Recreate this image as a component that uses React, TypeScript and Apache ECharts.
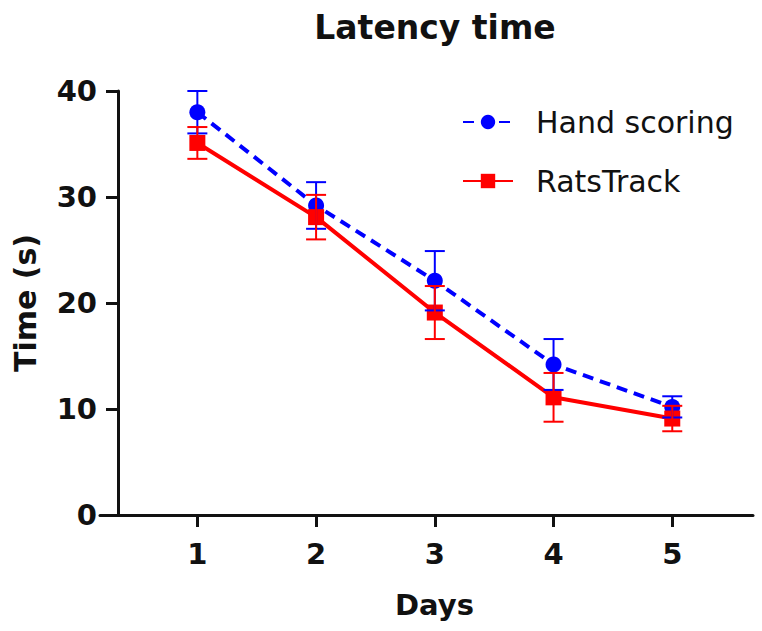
import React, { useEffect, useRef } from "react";
import * as echarts from "echarts";

const days = [1, 2, 3, 4, 5];
const handMean = [38.0, 29.2, 22.1, 14.2, 10.2];
const handErr = [2.0, 2.2, 2.8, 2.4, 1.0];
const ratsMean = [35.1, 28.1, 19.1, 11.1, 9.1];
const ratsErr = [1.5, 2.1, 2.5, 2.3, 1.2];
const yTicks = [0, 10, 20, 30, 40];
const seriesNames = ["Hand scoring", "RatsTrack"];
const titleText = "Latency time";

const BLUE = "#0000ff";
const RED = "#ff0000";
const INK = "#111111";

const makeErr = (color: string) => (params: any, api: any) => {
  const x = api.value(0);
  const lo = api.value(1);
  const hi = api.value(2);
  const pHi = api.coord([x, hi]);
  const pLo = api.coord([x, lo]);
  const w = 10;
  const style = { stroke: color, lineWidth: 2 };
  return {
    type: "group",
    children: [
      { type: "line", shape: { x1: pHi[0], y1: pHi[1], x2: pLo[0], y2: pLo[1] }, style },
      { type: "line", shape: { x1: pHi[0] - w, y1: pHi[1], x2: pHi[0] + w, y2: pHi[1] }, style },
      { type: "line", shape: { x1: pLo[0] - w, y1: pLo[1], x2: pLo[0] + w, y2: pLo[1] }, style },
    ],
  };
};

export default function App() {
  const ref = useRef<HTMLDivElement>(null);
  useEffect(() => {
    if (!ref.current) return;
    const chart = echarts.init(ref.current, undefined, { renderer: "svg" });
    const handLine = days.map((d, i) => [d, handMean[i]]);
    const ratsLine = days.map((d, i) => [d, ratsMean[i]]);
    const handBars = days.map((d, i) => [d, handMean[i] - handErr[i], handMean[i] + handErr[i]]);
    const ratsBars = days.map((d, i) => [d, ratsMean[i] - ratsErr[i], ratsMean[i] + ratsErr[i]]);
    chart.setOption({
      animation: false,
      backgroundColor: "#ffffff",
      graphic: [
        {
          type: "text",
          x: 435,
          y: 11,
          style: {
            text: titleText,
            fontFamily: "DejaVu Sans",
            fontWeight: "bold",
            fontSize: 33,
            fill: INK,
            textAlign: "center",
            textVerticalAlign: "top",
          },
        },
      ],
      grid: { left: 100, right: 9, top: 91, bottom: 116, containLabel: false },
      legend: {
        data: seriesNames,
        orient: "vertical",
        left: 457,
        top: 102,
        itemWidth: 50,
        itemHeight: 18,
        itemGap: 29,
        textStyle: {
          fontFamily: "DejaVu Sans",
          fontSize: 30,
          color: INK,
          padding: [0, 0, 0, 18],
        },
      },
      xAxis: {
        type: "value",
        min: 0.18,
        max: 5.68,
        name: "Days",
        nameLocation: "middle",
        nameGap: 75,
        nameTextStyle: {
          fontFamily: "DejaVu Sans",
          fontWeight: "bold",
          fontSize: 29,
          color: INK,
          padding: [0, 0, 0, 16],
        },
        axisLine: { onZero: false, lineStyle: { color: INK, width: 3 } },
        axisTick: { show: true, customValues: days, length: 12, lineStyle: { color: INK, width: 3 } },
        axisLabel: {
          customValues: days,
          margin: 24,
          fontFamily: "DejaVu Sans",
          fontWeight: "bold",
          fontSize: 29,
          color: INK,
        },
        splitLine: { show: false },
      },
      yAxis: {
        type: "value",
        min: 0,
        max: 40,
        interval: 10,
        offset: -18,
        name: "Time (s)",
        nameLocation: "middle",
        nameRotate: 90,
        nameGap: 78,
        nameTextStyle: {
          fontFamily: "DejaVu Sans",
          fontWeight: "bold",
          fontSize: 30,
          color: INK,
        },
        axisLine: { show: true, lineStyle: { color: INK, width: 3 } },
        axisTick: { show: true, length: 12, lineStyle: { color: INK, width: 3 } },
        axisLabel: {
          margin: 21,
          fontFamily: "DejaVu Sans",
          fontWeight: "bold",
          fontSize: 29,
          color: INK,
          customValues: yTicks,
        },
        splitLine: { show: false },
      },
      series: [
        {
          name: seriesNames[0],
          type: "line",
          data: handLine,
          symbol: "circle",
          symbolSize: 16,
          color: BLUE,
          itemStyle: { color: BLUE },
          lineStyle: { color: BLUE, width: 4, type: [11, 7] },
          z: 2,
        },
        {
          name: seriesNames[1],
          type: "line",
          data: ratsLine,
          symbol: "rect",
          symbolSize: 16,
          color: RED,
          itemStyle: { color: RED },
          lineStyle: { color: RED, width: 4, type: "solid" },
          z: 3,
        },
        {
          name: "hand-err",
          type: "custom",
          data: handBars,
          renderItem: makeErr(BLUE),
          encode: { x: 0, y: [1, 2] },
          z: 4,
        },
        {
          name: "rats-err",
          type: "custom",
          data: ratsBars,
          renderItem: makeErr(RED),
          encode: { x: 0, y: [1, 2] },
          z: 5,
        },
      ],
    });
    return () => chart.dispose();
  }, []);
  return <div ref={ref} style={{ position: "absolute", left: 0, top: 0, width: 762, height: 631 }} />;
}
